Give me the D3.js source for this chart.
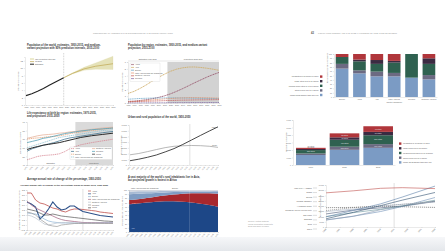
<!DOCTYPE html>
<html>
<head>
<meta charset="utf-8">
<script src="https://cdn.jsdelivr.net/npm/d3@7"></script>
<style>
body { margin: 0; background: #fff; }
svg { display: block; font-family: "Liberation Sans", Arial, sans-serif; }
</style>
</head>
<body>
<svg id="paper" width="445" height="251"></svg>
<script>
// ---- data (approximate) ----
var worldYears = [1950, 1960, 1970, 1980, 1990, 2000, 2010, 2015];
var worldEst = [2.54, 3.03, 3.70, 4.46, 5.33, 6.14, 6.96, 7.38];
var projYears = [2015, 2030, 2050, 2070, 2100];
var projMedium = [7.38, 8.55, 9.77, 10.5, 11.18];
var projLow = [7.38, 8.4, 9.4, 9.7, 9.6];
var projHigh = [7.38, 8.7, 10.2, 11.4, 13.2];

var regionYears = [1950, 1960, 1970, 1980, 1990, 2000, 2010, 2020, 2030, 2040, 2050, 2060, 2070, 2080, 2090, 2100];
var regionNames = ["Africa", "Asia", "Europe", "Latin America and the Caribbean", "Northern America", "Oceania"];
var regionPop = [
    [0.23, 0.28, 0.37, 0.48, 0.63, 0.81, 1.04, 1.34, 1.70, 2.10, 2.53, 2.97, 3.38, 3.79, 4.15, 4.47],
    [1.40, 1.70, 2.14, 2.64, 3.21, 3.74, 4.21, 4.64, 4.95, 5.15, 5.26, 5.27, 5.20, 5.09, 4.95, 4.78],
    [0.55, 0.61, 0.66, 0.69, 0.72, 0.73, 0.74, 0.74, 0.74, 0.73, 0.72, 0.70, 0.68, 0.67, 0.66, 0.65],
    [0.17, 0.22, 0.29, 0.36, 0.45, 0.53, 0.60, 0.65, 0.71, 0.75, 0.78, 0.79, 0.78, 0.76, 0.74, 0.71],
    [0.17, 0.20, 0.23, 0.25, 0.28, 0.31, 0.34, 0.37, 0.40, 0.42, 0.43, 0.45, 0.46, 0.47, 0.48, 0.50],
    [0.013, 0.016, 0.02, 0.023, 0.027, 0.031, 0.037, 0.042, 0.048, 0.053, 0.057, 0.062, 0.065, 0.068, 0.07, 0.072]
];
var regionColors = ["#9a5a70", "#cfae6a", "#5f9fc4", "#e38f68", "#c0504d", "#7a63a0"];

var lifeYears = [1970, 1975, 1980, 1985, 1990, 1995, 2000, 2005, 2010, 2015, 2020, 2030, 2040, 2050];
var lifeNames = ["Africa", "Asia", "Europe", "Latin America and the Caribbean", "Northern America", "Oceania", "World"];
var lifeExp = [
    [46, 48, 50, 51, 51.5, 52, 53, 55.5, 59, 61.5, 63.5, 66, 68, 70],
    [56, 59, 61, 63, 64.5, 66, 68, 70, 71.5, 72.5, 73.5, 75.5, 77.5, 79],
    [70, 71, 71.5, 72, 73, 73, 74, 75, 76.5, 77.5, 78.5, 80, 81.5, 83],
    [60, 62, 64, 66, 68, 70, 72, 73, 74, 75, 76, 78, 80, 81],
    [71, 72.5, 74, 75, 75.5, 76, 77, 77.5, 78.5, 79, 80, 81.5, 83, 84],
    [66, 67.5, 69, 71, 72, 73.5, 75, 76.5, 77.5, 78.5, 79.5, 81, 82, 83],
    [58, 60, 61.5, 63, 64, 65, 66, 67.5, 69, 70.5, 72, 74, 75.5, 77]
];
var lifeColors = ["#d4808e", "#3a6f8c", "#e39c70", "#8cc0d0", "#e6b098", "#4e9db4", "#2a2a2a"];

var urbanYears = [1950, 1960, 1970, 1980, 1990, 2000, 2010, 2018, 2020, 2030, 2040, 2050];
var urbanPop = [751, 1019, 1354, 1754, 2290, 2868, 3595, 4220, 4379, 5167, 5938, 6680];
var ruralPop = [1788, 2013, 2346, 2703, 3040, 3276, 3364, 3413, 3415, 3380, 3280, 3092];

var rateYears = [1950, 1955, 1960, 1965, 1970, 1975, 1980, 1985, 1990, 1995, 2000, 2005, 2010, 2015, 2020, 2025, 2030, 2035, 2040, 2045, 2050];
var rateNames = ["Africa", "Asia", "Europe", "Latin America and the Caribbean", "Northern America", "Oceania", "World"];
var rateValues = [
    [3.2, 3.2, 2.5, 2.2, 2.1, 1.9, 1.7, 1.6, 1.4, 1.3, 1.5, 1.6, 1.6, 1.55, 1.5, 1.45, 1.4, 1.3, 1.25, 1.2, 1.15],
    [2.3, 2.1, 1.8, 0.6, 1.0, 1.6, 2.3, 1.8, 1.5, 1.6, 1.9, 1.9, 1.6, 1.35, 1.25, 1.15, 1.05, 0.95, 0.9, 0.85, 0.8],
    [1.2, 1.15, 1.1, 0.9, 0.6, 0.4, 0.3, 0.25, 0.2, 0.2, 0.2, 0.2, 0.2, 0.2, 0.22, 0.22, 0.23, 0.24, 0.24, 0.25, 0.25],
    [2.4, 2.0, 1.7, 1.5, 1.3, 1.1, 0.9, 0.7, 0.55, 0.45, 0.4, 0.35, 0.3, 0.25, 0.25, 0.24, 0.23, 0.22, 0.21, 0.2, 0.2],
    [1.0, 0.9, 0.7, 0.4, 0.1, 0.0, 0.1, 0.2, 0.25, 0.25, 0.22, 0.2, 0.2, 0.2, 0.2, 0.2, 0.2, 0.2, 0.2, 0.2, 0.2],
    [1.3, 1.2, 1.0, 0.6, 0.3, 0.0, -0.1, -0.15, 0.0, 0.05, 0.1, 0.15, 0.15, 0.15, 0.15, 0.15, 0.15, 0.15, 0.15, 0.15, 0.15],
    [1.6, 1.5, 1.4, 1.2, 1.0, 1.0, 1.1, 1.0, 0.9, 0.85, 0.8, 0.75, 0.7, 0.65, 0.6, 0.55, 0.5, 0.45, 0.4, 0.38, 0.35]
];
var rateColors = ["#c0504d", "#2b4f88", "#8fb4d6", "#a9708a", "#b9c3cf", "#999999", "#555555"];
var rateWidths = [0.8, 1.1, 0.7, 0.8, 0.7, 0.7, 0.7];

var ruralYears = [1950, 1960, 1970, 1980, 1990, 2000, 2010, 2020, 2030, 2040, 2050];
var ruralKeys = ["Asia", "Africa", "Europe", "Latin America and the Caribbean", "Other"];
var ruralAsia = [66, 68, 70, 72, 73, 73, 72, 70, 67, 64, 60];
var ruralAfrica = [10, 10, 11, 12, 14, 16, 19, 22, 25, 28, 31];
var ruralEurope = [14, 13, 11, 9, 7, 6, 5, 4, 4, 4, 4];
var ruralLatin = [6, 6, 5, 4, 4, 3, 3, 3, 3, 3, 3];
var ruralOther = [4, 3, 3, 3, 2, 2, 1, 1, 1, 1, 2];
var ruralColors = ["#1d4787", "#a8282d", "#7f9cc3", "#a9bbd4", "#d3d6de"];

var sizeClasses = ["Urban areas smaller than 500 000", "Cities of 500 000 to 1 million", "Medium-sized cities of 1 to 5 million", "Large cities of 5 to 10 million", "Megacities of 10 million or more"];
var sizeColors = ["#7b9bc4", "#6c6a82", "#2f6150", "#3b2b42", "#b0363b"];
var continents = ["Europe", "Africa", "Asia", "Latin America and the Caribbean", "Oceania", "Northern America"];
var shareSmall = [66, 55, 48, 48, 45, 41];
var shareMid1 = [11, 7, 11, 8, 0, 10];
var shareMedium = [16, 21, 18, 24, 55, 26];
var shareLarge = [0, 4, 9, 4, 0, 13];
var shareMega = [7, 13, 14, 16, 0, 10];

var barYears = ["1990", "2018", "2030"];
var popSmall = [1330, 2025, 2290];
var popMid1 = [205, 415, 494];
var popMedium = [456, 926, 1183];
var popLarge = [147, 325, 448];
var popMega = [153, 529, 752];
var cityCounts = [["", "294 cities", "239 cities", "21 cities", "10 cities"],
                  ["", "598 cities", "467 cities", "48 cities", "33 cities"],
                  ["", "710 cities", "597 cities", "66 cities", "43 cities"]];

var cityYears = [1990, 2000, 2010, 2018, 2030];
var cityNames = ["Kinki M.M.A. (Osaka)", "Dhaka", "Beijing", "Mumbai (Bombay)", "Al-Qahirah (Cairo)", "Ciudad de Mexico (Mexico City)", "Sao Paulo", "Shanghai", "Delhi", "Tokyo"];
var cityPop = [
    [18389, 18660, 19492, 19281, 18658],
    [6621, 10285, 14731, 19578, 28076],
    [6788, 10162, 16441, 19618, 24282],
    [12436, 16147, 18257, 19980, 24572],
    [9892, 13626, 16899, 20076, 25517],
    [15642, 18457, 20132, 21581, 24111],
    [14776, 17014, 19660, 21650, 23824],
    [7823, 13959, 20314, 25582, 32869],
    [9726, 15692, 21990, 28514, 38939],
    [32530, 34450, 36834, 37468, 36574]
];
var cityColors = ["#555555", "#6f8fb5", "#8c9bb0", "#4a5a7a", "#6a949c", "#777777", "#a9b6c6", "#2f4f6f", "#5c7fa8", "#c0504d"];
var cityDash = ["1.2,0.8", null, null, null, null, "1.2,0.8", null, null, null, null];

var svg = d3.select("#paper");

// bottom strip of the photographed spread
var defs = svg.append("defs");
var grad = defs.append("linearGradient").attr("id", "strip").attr("x1", 0).attr("x2", 0).attr("y1", 0).attr("y2", 1);
grad.append("stop").attr("offset", "0%").attr("stop-color", "#f6f7f9");
grad.append("stop").attr("offset", "100%").attr("stop-color", "#e4e7eb");
svg.append("rect").attr("x", 0).attr("y", 237).attr("width", 445).attr("height", 14).attr("fill", "url(#strip)");

function tinyAxis(g, fs) {
    g.attr("font-size", null);
    g.selectAll("text").attr("font-size", fs || 2.2).attr("fill", "#666");
    g.selectAll("line").attr("stroke", "#aaa").attr("stroke-width", 0.25);
    g.selectAll(".domain").attr("stroke", "#aaa").attr("stroke-width", 0.25);
}

function rotateTicks(g) {
    g.selectAll("text").attr("y", 0).attr("dy", 0).attr("dx", 0)
        .attr("transform", "translate(0,2.4) rotate(-45)")
        .style("text-anchor", "end");
}

function addText(x, y, lines, size, color, weight, anchor) {
    var t = svg.append("text").attr("x", x).attr("y", y)
        .attr("font-size", size).attr("fill", color)
        .attr("font-weight", weight || "normal")
        .attr("text-anchor", anchor || "start");
    lines.forEach(function (l, i) {
        t.append("tspan").attr("x", x).attr("dy", i ? "1.25em" : 0).text(l);
    });
    return t;
}

function yLabel(x, y, txt) {
    svg.append("text").attr("transform", "translate(" + x + "," + y + ") rotate(-90)")
        .attr("text-anchor", "middle").attr("font-size", 2.2).attr("fill", "#666").text(txt);
}

function drawLine(x, y, xs, ys, color, width, dash) {
    var line = d3.line().x(function (d) { return x(d[0]); }).y(function (d) { return y(d[1]); });
    svg.append("path").datum(d3.zip(xs, ys)).attr("d", line)
        .attr("fill", "none").attr("stroke", color).attr("stroke-width", width)
        .attr("stroke-dasharray", dash || null);
}

function legendBox(x, y, w, names, colors, dashes, cols) {
    var rows = Math.ceil(names.length / cols);
    svg.append("rect").attr("x", x).attr("y", y).attr("width", w).attr("height", rows * 2.8 + 1.4)
        .attr("fill", "#fff").attr("stroke", "#bbb").attr("stroke-width", 0.2);
    names.forEach(function (n, i) {
        var cx = x + 1 + Math.floor(i / rows) * (w / cols);
        var cy = y + 2.2 + (i % rows) * 2.8;
        svg.append("line").attr("x1", cx).attr("x2", cx + 3).attr("y1", cy - 0.6).attr("y2", cy - 0.6)
            .attr("stroke", colors[i]).attr("stroke-width", 0.7)
            .attr("stroke-dasharray", dashes ? dashes[i] : null);
        svg.append("text").attr("x", cx + 4).attr("y", cy).attr("font-size", 1.9).attr("fill", "#555").text(n);
    });
}

// ---- page headers ----
addText(93, 34, ["CONTEMPORARY TRENDS IN THE DISTRIBUTION OF THE WORLD POPULATION"], 2.1, "#999");
addText(311, 34, ["42"], 2.6, "#555", "bold");
addText(318, 34, ["POPULATION TRENDS AND THE GLOBAL PROCESS OF URBAN DEVELOPMENT"], 2.1, "#999");

// ---- 1. world population ----
function drawWorldChart() {
    var x = d3.scaleLinear().domain([1950, 2100]).range([26, 113]);
    var y = d3.scaleLinear().domain([0, 13]).range([105, 57]);
    addText(27, 46, ["Population of the world, estimates, 1950-2015, and medium-", "variant projection with 95% prediction intervals, 2015-2100"], 2.6, "#333", "bold");
    var area = d3.area().x(function (d) { return x(d[0]); })
        .y0(function (d) { return y(d[1]); }).y1(function (d) { return y(d[2]); });
    svg.append("path").datum(d3.zip(projYears, projLow, projHigh)).attr("d", area)
        .attr("fill", "#e5e2b8").attr("stroke", "#d8d2a0").attr("stroke-width", 0.2);
    drawLine(x, y, projYears, projMedium, "#bfa650", 0.7);
    drawLine(x, y, worldYears, worldEst, "#222", 1.1);
    svg.append("line").attr("x1", x(2015)).attr("x2", x(2015)).attr("y1", 53).attr("y2", 105)
        .attr("stroke", "#555").attr("stroke-width", 0.3).attr("stroke-dasharray", "0.8,0.8");
    var gx = svg.append("g").attr("transform", "translate(0,105)")
        .call(d3.axisBottom(x).tickValues(d3.range(1950, 2101, 10)).tickFormat(d3.format("d")).tickSize(1).tickPadding(1));
    tinyAxis(gx, 1.8);
    var gy = svg.append("g").attr("transform", "translate(25,0)")
        .call(d3.axisLeft(y).ticks(7).tickSize(1).tickPadding(1));
    tinyAxis(gy);
    yLabel(19, 81, "Population (billions)");
    var leg = [["95% prediction intervals", "#e5e2b8", 1.4], ["Medium", "#bfa650", 0.7], ["Estimates", "#222", 1]];
    leg.forEach(function (l, i) {
        svg.append("line").attr("x1", 30).attr("x2", 34).attr("y1", 59 + i * 2.6).attr("y2", 59 + i * 2.6)
            .attr("stroke", l[1]).attr("stroke-width", l[2]);
        svg.append("text").attr("x", 35).attr("y", 59.7 + i * 2.6).attr("font-size", 1.9).attr("fill", "#555").text(l[0]);
    });
}

// ---- 2. population by region ----
function drawRegionChart() {
    var x = d3.scaleLinear().domain([1950, 2100]).range([128, 219]);
    var y = d3.scaleLinear().domain([0, 6]).range([103, 62]);
    addText(128, 46, ["Population by region, estimates, 1950-2015, and medium-variant", "projection, 2015-2100"], 2.6, "#333", "bold");
    svg.append("rect").attr("x", x(2015)).attr("y", 62).attr("width", x(2100) - x(2015)).attr("height", 41).attr("fill", "#d2d2d2");
    svg.append("line").attr("x1", x(1950)).attr("x2", x(2100)).attr("y1", 61).attr("y2", 61).attr("stroke", "#999").attr("stroke-width", 0.25);
    addText((x(1950) + x(2015)) / 2, 60, ["Estimates 1950-2015"], 1.9, "#555", "normal", "middle");
    addText((x(2015) + x(2100)) / 2, 60, ["Projections 2015-2100"], 1.9, "#555", "normal", "middle");
    regionPop.forEach(function (vals, i) {
        drawLine(x, y, regionYears, vals, regionColors[i], i < 2 ? 0.9 : 0.7, "1.3,0.5");
    });
    var gx = svg.append("g").attr("transform", "translate(0,103)")
        .call(d3.axisBottom(x).tickValues(d3.range(1950, 2101, 10)).tickFormat(d3.format("d")).tickSize(1).tickPadding(1));
    tinyAxis(gx, 1.8);
    var gy = svg.append("g").attr("transform", "translate(128,0)")
        .call(d3.axisLeft(y).ticks(6).tickSize(1).tickPadding(1));
    tinyAxis(gy);
    yLabel(123, 82, "Population (billions)");
    legendBox(130, 63, 30, regionNames, regionColors, null, 1);
}

// ---- 3. life expectancy ----
function drawLifeChart() {
    var x = d3.scaleLinear().domain([1970, 2050]).range([27, 113]);
    var y = d3.scaleLinear().domain([40, 90]).range([165, 122]);
    addText(27, 114, ["Life expectancy at birth by region: estimates, 1970-2015,", "and projections 2015-2050"], 2.6, "#333", "bold");
    svg.append("rect").attr("x", x(2015)).attr("y", 122).attr("width", x(2050) - x(2015)).attr("height", 43).attr("fill", "#dadada");
    lifeExp.forEach(function (vals, i) {
        var dash = (i === 0 || i === 2 || i === 3) ? "1.3,0.6" : null;
        drawLine(x, y, lifeYears, vals, lifeColors[i], i === 6 ? 1 : 0.75, dash);
    });
    var gx = svg.append("g").attr("transform", "translate(0,165)")
        .call(d3.axisBottom(x).tickValues(d3.range(1970, 2051, 5)).tickFormat(d3.format("d")).tickSize(1).tickPadding(1));
    tinyAxis(gx, 1.8);
    rotateTicks(gx);
    var gy = svg.append("g").attr("transform", "translate(27,0)")
        .call(d3.axisLeft(y).ticks(5).tickSize(1).tickPadding(1));
    tinyAxis(gy);
    yLabel(21, 143, "Life expectancy (years)");
    addText(x(1992), 163.5, ["Estimates"], 1.9, "#555", "normal", "middle");
    addText(x(2032), 163.5, ["Projections"], 1.9, "#555", "normal", "middle");
    legendBox(70, 147, 42, lifeNames, lifeColors, ["1.3,0.6", null, "1.3,0.6", "1.3,0.6", null, null, null], 2);
}

// ---- 4. urban and rural ----
function drawUrbanChart() {
    var x = d3.scaleLinear().domain([1950, 2050]).range([130, 218]);
    var y = d3.scaleLinear().domain([0, 7000]).range([165, 125]);
    addText(128, 118, ["Urban and rural population of the world, 1950-2050"], 2.6, "#333", "bold");
    svg.append("line").attr("x1", x(2018)).attr("x2", x(2018)).attr("y1", 124).attr("y2", 165)
        .attr("stroke", "#999").attr("stroke-width", 0.3);
    drawLine(x, y, urbanYears, ruralPop, "#9a9a9a", 0.7);
    drawLine(x, y, urbanYears, urbanPop, "#333", 0.9);
    var gx = svg.append("g").attr("transform", "translate(0,165)")
        .call(d3.axisBottom(x).tickValues(d3.range(1950, 2051, 5)).tickFormat(d3.format("d")).tickSize(1).tickPadding(1));
    tinyAxis(gx, 1.8);
    rotateTicks(gx);
    var gy = svg.append("g").attr("transform", "translate(129,0)")
        .call(d3.axisLeft(y).ticks(7).tickSize(1).tickPadding(1));
    tinyAxis(gy);
    yLabel(122, 145, "Population (millions)");
    addText(x(2046), y(7000) + 3, ["Urban"], 2, "#555", "normal", "middle");
    addText(x(2046), y(ruralPop[ruralPop.length - 1]) - 1.5, ["Rural"], 2, "#555", "normal", "middle");
}

// ---- 5. rate of change of percentage urban ----
function drawRateChart() {
    var x = d3.scaleLinear().domain([1950, 2050]).range([27, 113]);
    var y = d3.scaleLinear().domain([-0.5, 3.5]).range([230, 190]);
    addText(27, 180, ["Average annual rate of change of the percentage, 1950-2050"], 2.6, "#333", "bold");
    addText(20, 186, ["Average annual rate of change of the percentage urban by major area, 1950-2050"], 2.3, "#333", "bold");
    svg.append("line").attr("x1", x(2015)).attr("x2", x(2015)).attr("y1", 189).attr("y2", 230)
        .attr("stroke", "#999").attr("stroke-width", 0.3);
    rateValues.forEach(function (vals, i) {
        drawLine(x, y, rateYears, vals, rateColors[i], rateWidths[i]);
    });
    var gx = svg.append("g").attr("transform", "translate(0,230)")
        .call(d3.axisBottom(x).tickValues(d3.range(1950, 2051, 5)).tickFormat(d3.format("d")).tickSize(1).tickPadding(1));
    tinyAxis(gx, 1.8);
    rotateTicks(gx);
    var gy = svg.append("g").attr("transform", "translate(27,0)")
        .call(d3.axisLeft(y).ticks(8).tickSize(1).tickPadding(1));
    tinyAxis(gy);
    yLabel(20, 210, "Average annual rate of change (per cent)");
    rateNames.forEach(function (n, i) {
        var cy = 191 + i * 2.8;
        svg.append("line").attr("x1", 88).attr("x2", 91).attr("y1", cy).attr("y2", cy)
            .attr("stroke", rateColors[i]).attr("stroke-width", 0.7);
        svg.append("text").attr("x", 92).attr("y", cy + 0.6).attr("font-size", 1.9).attr("fill", "#555").text(n);
    });
}

// ---- 6. rural inhabitants stacked area ----
function drawRuralChart() {
    var x = d3.scaleLinear().domain([1950, 2050]).range([129, 218]);
    var y = d3.scaleLinear().domain([0, 100]).range([232, 190]);
    addText(128, 178, ["A vast majority of the world's rural inhabitants live in Asia,", "but projected growth is fastest in Africa"], 2.6, "#333", "bold");
    var table = ruralYears.map(function (yr, i) {
        return { year: yr, "Asia": ruralAsia[i], "Africa": ruralAfrica[i], "Europe": ruralEurope[i],
            "Latin America and the Caribbean": ruralLatin[i], "Other": ruralOther[i] };
    });
    var series = d3.stack().keys(ruralKeys)(table);
    var area = d3.area().curve(d3.curveMonotoneX)
        .x(function (d) { return x(d.data.year); })
        .y0(function (d) { return y(d[0]); }).y1(function (d) { return y(d[1]); });
    svg.selectAll("path.rural").data(series).enter().append("path").attr("class", "rural")
        .attr("d", area).attr("fill", function (d, i) { return ruralColors[i]; });
    svg.append("line").attr("x1", x(2018)).attr("x2", x(2018)).attr("y1", 189).attr("y2", 232)
        .attr("stroke", "#fff").attr("stroke-width", 0.25).attr("stroke-opacity", 0.6);
    var gx = svg.append("g").attr("transform", "translate(0,232)")
        .call(d3.axisBottom(x).tickValues(d3.range(1950, 2051, 5)).tickFormat(d3.format("d")).tickSize(1).tickPadding(1));
    tinyAxis(gx, 1.8);
    rotateTicks(gx);
    var gy = svg.append("g").attr("transform", "translate(129,0)")
        .call(d3.axisLeft(y).ticks(10).tickSize(1).tickPadding(1));
    tinyAxis(gy, 1.8);
    yLabel(123, 211, "Percentage of rural population");
    addText(131, 188.5, ["Latin America and the Caribbean"], 1.9, "#555");
    addText(172, 188.5, ["Europe"], 1.9, "#555");
    addText(131, 204, ["Africa"], 1.8, "#f3d0d0");
    addText(131, 229, ["Asia"], 1.8, "#c8d4e8");
}

// ---- 7. share of urban population by city size ----
function drawShareChart() {
    var x = d3.scaleBand().domain(continents).range([334, 437]).paddingInner(0.27).paddingOuter(0.1);
    var y = d3.scaleLinear().domain([0, 100]).range([97, 54]);
    var table = continents.map(function (c, i) {
        var row = { name: c };
        row[sizeClasses[0]] = shareSmall[i];
        row[sizeClasses[1]] = shareMid1[i];
        row[sizeClasses[2]] = shareMedium[i];
        row[sizeClasses[3]] = shareLarge[i];
        row[sizeClasses[4]] = shareMega[i];
        return row;
    });
    var series = d3.stack().keys(sizeClasses)(table);
    var groups = svg.selectAll("g.share").data(series).enter().append("g").attr("class", "share")
        .attr("fill", function (d, i) { return sizeColors[i]; });
    groups.selectAll("rect").data(function (d) { return d; }).enter().append("rect")
        .attr("x", function (d) { return x(d.data.name); })
        .attr("y", function (d) { return y(d[1]); })
        .attr("width", x.bandwidth())
        .attr("height", function (d) { return y(d[0]) - y(d[1]); });
    var gx = svg.append("g").attr("transform", "translate(0,97)")
        .call(d3.axisBottom(x).tickSize(0).tickPadding(2));
    tinyAxis(gx, 1.9);
    gx.selectAll("text").each(function (d) {
        if (d.length > 20) {
            var t = d3.select(this).text(null);
            t.append("tspan").attr("x", 0).attr("dy", "0.71em").text("Latin America");
            t.append("tspan").attr("x", 0).attr("dy", "1.2em").text("and the Caribbean");
        }
    });
    var gy = svg.append("g").attr("transform", "translate(334,0)")
        .call(d3.axisLeft(y).ticks(10).tickSize(1).tickPadding(1));
    tinyAxis(gy, 1.8);
    yLabel(328, 68, "Percentage of urban population");
    sizeClasses.slice().reverse().forEach(function (n, i) {
        var cy = 77 + i * 4.6;
        svg.append("rect").attr("x", 320).attr("y", cy - 1.6).attr("width", 2.4).attr("height", 2.4)
            .attr("fill", sizeColors[4 - i]);
        svg.append("text").attr("x", 318.5).attr("y", cy + 0.4).attr("font-size", 1.9).attr("fill", "#555")
            .attr("text-anchor", "end").text(n);
    });
}

// ---- 8. urban population by city size class ----
function drawSizeChart() {
    var x = d3.scaleBand().domain(barYears).range([294, 395]).paddingInner(0.12).paddingOuter(0.06);
    var y = d3.scaleLinear().domain([0, 6000]).range([165, 120]);
    var table = barYears.map(function (yr, i) {
        var row = { year: yr, idx: i };
        row[sizeClasses[0]] = popSmall[i];
        row[sizeClasses[1]] = popMid1[i];
        row[sizeClasses[2]] = popMedium[i];
        row[sizeClasses[3]] = popLarge[i];
        row[sizeClasses[4]] = popMega[i];
        return row;
    });
    var series = d3.stack().keys(sizeClasses)(table);
    series.forEach(function (s, k) {
        s.forEach(function (d) {
            svg.append("rect").attr("x", x(d.data.year)).attr("y", y(d[1]))
                .attr("width", x.bandwidth()).attr("height", y(d[0]) - y(d[1]))
                .attr("fill", sizeColors[k]);
            var lbl = cityCounts[d.data.idx][k];
            if (lbl) {
                var h = y(d[0]) - y(d[1]);
                var ty = h > 2.4 ? (y(d[0]) + y(d[1])) / 2 + 0.6 : y(d[1]) - 1;
                svg.append("text").attr("x", x(d.data.year) + x.bandwidth() / 2).attr("y", ty)
                    .attr("text-anchor", "middle").attr("font-size", 1.8)
                    .attr("fill", h > 2.4 ? "#e8e8ee" : "#555").text(lbl);
            }
        });
    });
    var gx = svg.append("g").attr("transform", "translate(0,165)")
        .call(d3.axisBottom(x).tickSize(0).tickPadding(2));
    tinyAxis(gx, 2);
    var gy = svg.append("g").attr("transform", "translate(293,0)")
        .call(d3.axisLeft(y).ticks(6).tickSize(1).tickPadding(1));
    tinyAxis(gy, 1.8);
    yLabel(287, 142, "Population (millions)");
    sizeClasses.slice().reverse().forEach(function (n, i) {
        var cy = 144 + i * 4.7;
        svg.append("rect").attr("x", 399).attr("y", cy - 1.6).attr("width", 2.4).attr("height", 2.4)
            .attr("fill", sizeColors[4 - i]);
        svg.append("text").attr("x", 403).attr("y", cy + 0.4).attr("font-size", 1.9).attr("fill", "#555").text(n);
    });
}

// ---- 9. largest cities ----
function drawCityChart() {
    var x = d3.scaleLinear().domain([1990, 2030]).range([326, 435]);
    var y = d3.scaleLinear().domain([0, 40000]).range([227, 185]);
    svg.append("line").attr("x1", x(2015)).attr("x2", x(2015)).attr("y1", 183).attr("y2", 227)
        .attr("stroke", "#999").attr("stroke-width", 0.3);
    cityPop.forEach(function (vals, i) {
        drawLine(x, y, cityYears, vals, cityColors[i], 0.6, cityDash[i]);
    });
    var gx = svg.append("g").attr("transform", "translate(0,227)")
        .call(d3.axisBottom(x).tickValues(d3.range(1990, 2031, 5)).tickFormat(d3.format("d")).tickSize(1).tickPadding(1));
    tinyAxis(gx, 2);
    rotateTicks(gx);
    var gy = svg.append("g").attr("transform", "translate(326,0)")
        .call(d3.axisLeft(y).ticks(8).tickSize(1).tickPadding(1));
    tinyAxis(gy, 1.8);
    yLabel(320.5, 206, "Population (thousands)");
    var py = d3.scalePoint().domain(cityNames).range([188, 229]);
    cityNames.forEach(function (n) {
        svg.append("text").attr("x", 312).attr("y", py(n) + 0.6).attr("text-anchor", "end")
            .attr("font-size", 1.9).attr("fill", "#555").text(n);
        svg.append("line").attr("x1", 313).attr("x2", 317).attr("y1", py(n)).attr("y2", py(n))
            .attr("stroke", "#888").attr("stroke-width", 0.3);
    });
    addText(248, 222, ["Source: United Nations,", "World Population Prospects", "2018 and 2017 revision"], 2, "#999");
}

drawWorldChart();
drawRegionChart();
drawLifeChart();
drawUrbanChart();
drawRateChart();
drawRuralChart();
drawShareChart();
drawSizeChart();
drawCityChart();
</script>
</body>
</html>
